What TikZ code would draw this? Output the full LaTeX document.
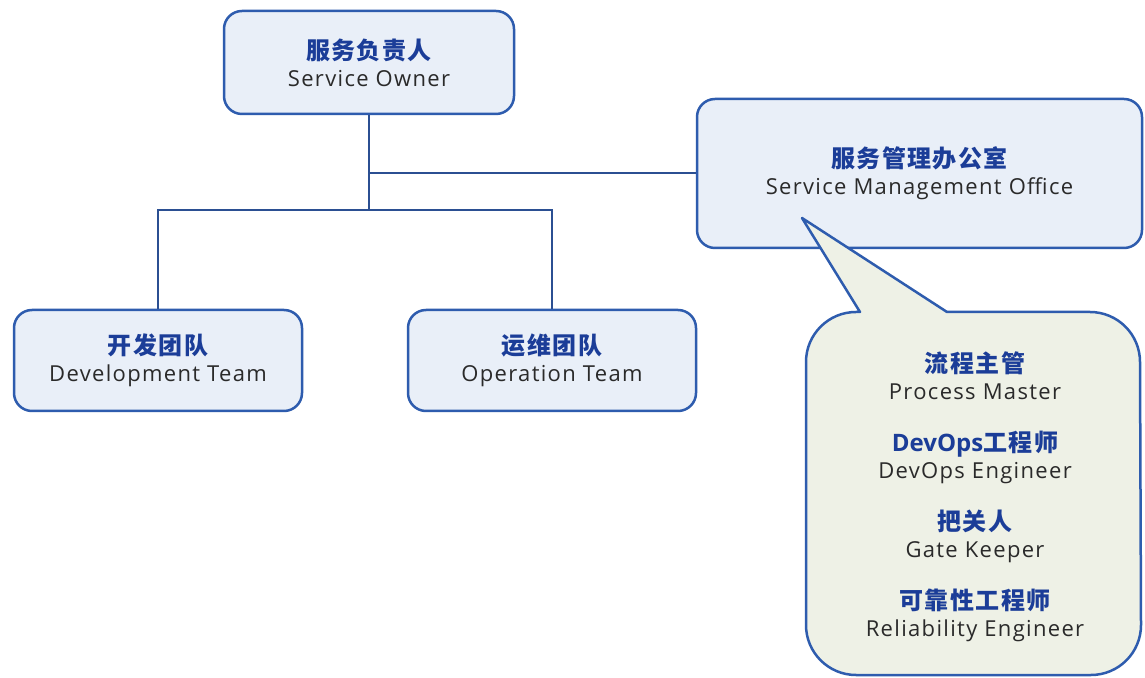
\documentclass[tikz,border=0pt]{standalone}
\usepackage{fontspec}
\setmainfont{Open Sans}
\newfontfamily\cnfont[LetterSpace=6]{Noto Sans CJK SC}
\newfontfamily\enfont[LetterSpace=6]{Open Sans}
\newfontfamily\enbfont{Open Sans}
\definecolor{bd}{HTML}{2E5CAE}
\definecolor{bf}{HTML}{E9EFF8}
\definecolor{cf}{HTML}{EEF1E6}
\definecolor{cn}{HTML}{1B3D98}
\definecolor{en}{HTML}{2A2A2A}
\definecolor{ln}{HTML}{2B4F92}
\newcommand\cnt[1]{{\fontsize{24}{28}\selectfont\cnfont\bfseries\color{cn}#1}}
\newcommand\ent[1]{{\fontsize{22}{28}\selectfont\enfont\color{en}#1}}
\newcommand\latb[1]{{\enbfont\bfseries #1}}
\begin{document}
\begin{tikzpicture}[x=1pt,y=1pt,
  box/.style={draw=bd, fill=bf, line width=2.5pt, rounded corners=18pt, align=center,
    font=\fontsize{22}{27}\selectfont, inner sep=0pt},
  conn/.style={draw=ln, line width=2pt}]
\useasboundingbox (0,0) rectangle (1145,677);
\fill[white] (0,0) rectangle (1145,677);
% boxes
\node[box, minimum width=290pt, minimum height=103pt] (so) at (369,614.5) {\cnt{服务负责人}\\\ent{Service Owner}};
\node[box, minimum width=445pt, minimum height=149pt] (smo) at (919.5,503.5) {\cnt{服务管理办公室}\\\ent{Service Management Office}};
\node[box, minimum width=288pt, minimum height=101pt] (dev) at (158,316.5) {\cnt{开发团队}\\\ent{Development Team}};
\node[box, minimum width=288pt, minimum height=101pt] (ops) at (552,316.5) {\cnt{运维团队}\\\ent{Operation Team}};
% connectors
\coordinate (j) at (369,467);
\draw[conn] (so.south) -- (j);
\draw[conn] (so.south |- smo.west) -- (smo.west);
\draw[conn] (dev.north) |- (j) -| (ops.north);
% callout
\draw[draw=bd, fill=cf, line width=2.5pt, line join=round]
  (860,365) -- (802,459) -- (947,365) -- (1090,365)
  arc[start angle=90, end angle=0, radius=50] -- (1141,52)
  arc[start angle=0, end angle=-90, radius=50] -- (856,2)
  arc[start angle=270, end angle=180, radius=50] -- (806,315)
  arc[start angle=180, end angle=90, radius=50] -- cycle;
\node[align=center, font=\fontsize{22}{27}\selectfont, inner sep=0pt] (roles) at (975,180)
  {\cnt{流程主管}\\\ent{Process Master}\\[25pt]
   \cnt{\latb{DevOps}工程师}\\\ent{DevOps Engineer}\\[25pt]
   \cnt{把关人}\\\ent{Gate Keeper}\\[25pt]
   \cnt{可靠性工程师}\\\ent{Reliability Engineer}};
\end{tikzpicture}
\end{document}
